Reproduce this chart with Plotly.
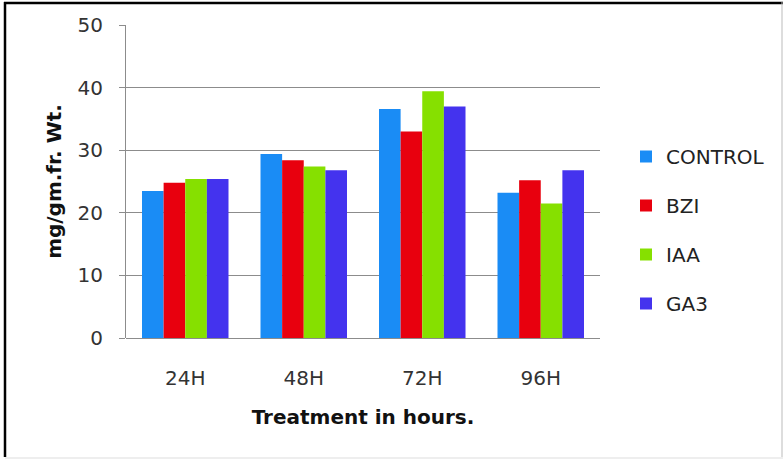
import plotly.graph_objects as go

categories = ["24H", "48H", "72H", "96H"]
control = [23.5, 29.4, 36.6, 23.2]
bzi = [24.8, 28.4, 33.0, 25.2]
iaa = [25.4, 27.4, 39.4, 21.5]
ga3 = [25.4, 26.8, 37.0, 26.8]

series_names = ["CONTROL", "BZI", "IAA", "GA3"]
series_values = [control, bzi, iaa, ga3]
colors = ["#1A8CF5", "#E8000E", "#86E000", "#4433EE"]

fig = go.Figure()
for i, (name, vals, col) in enumerate(zip(series_names, series_values, colors)):
    fig.add_trace(go.Bar(x=categories, y=vals, name=name, marker_color=col,
                         marker_line_width=0, legendgroup=name))

W, H = 783, 459
L, R, T, B = 126, 600, 25, 338
pw, ph = R - L, B - T

def px(x):
    return (x - L) / pw

def py(y):
    return (B - y) / ph

FONT = "DejaVu Sans, Open Sans, sans-serif"

fig.update_layout(
    width=W, height=H,
    margin=dict(l=L, r=W - R, t=T, b=H - B, autoexpand=False),
    paper_bgcolor="white", plot_bgcolor="white",
    barmode="group", bargap=0.27, bargroupgap=0.0,
    font=dict(family=FONT, size=20, color="#333333"),
    showlegend=True,
    legend=dict(x=px(626), y=py(137), xanchor="left", yanchor="top",
                tracegroupgap=20, font=dict(size=20, color="#222222"),
                bgcolor="rgba(0,0,0,0)"),
    xaxis=dict(showgrid=False, showline=False, ticks="", tickfont=dict(size=20),
               ticklabelstandoff=26,
               title=dict(text="<b>Treatment in hours.</b>", font=dict(size=20, color="#111111"),
                          standoff=20)),
    yaxis=dict(range=[0, 50], dtick=10, showgrid=True, gridcolor="#8C8C8C", gridwidth=1,
               showline=True, linecolor="#8C8C8C", linewidth=1,
               ticks="outside", ticklen=6, tickcolor="#8C8C8C",
               ticklabelstandoff=12,
               zeroline=True, zerolinecolor="#8C8C8C", zerolinewidth=1,
               tickfont=dict(size=20),
               title=dict(text="<b>mg/gm.fr. Wt.</b>", font=dict(size=20, color="#111111"),
                          standoff=10)),
    shapes=[
        dict(type="line", xref="paper", yref="paper", x0=px(5), x1=px(5), y0=py(2), y1=py(457),
             line=dict(color="black", width=2.5)),
        dict(type="line", xref="paper", yref="paper", x0=px(4), x1=px(783), y0=py(3), y1=py(3),
             line=dict(color="black", width=2.5)),
        dict(type="line", xref="paper", yref="paper", x0=px(782), x1=px(782), y0=py(2), y1=py(457),
             line=dict(color="#BBBBBB", width=1)),
        dict(type="line", xref="paper", yref="paper", x0=px(5), x1=px(783), y0=py(458), y1=py(458),
             line=dict(color="#DDDDDD", width=1)),
    ],
)

fig.write_html("out.html",
               config={"displayModeBar": False},
               post_script="document.body.style.margin='0';document.body.style.overflow='hidden';")
